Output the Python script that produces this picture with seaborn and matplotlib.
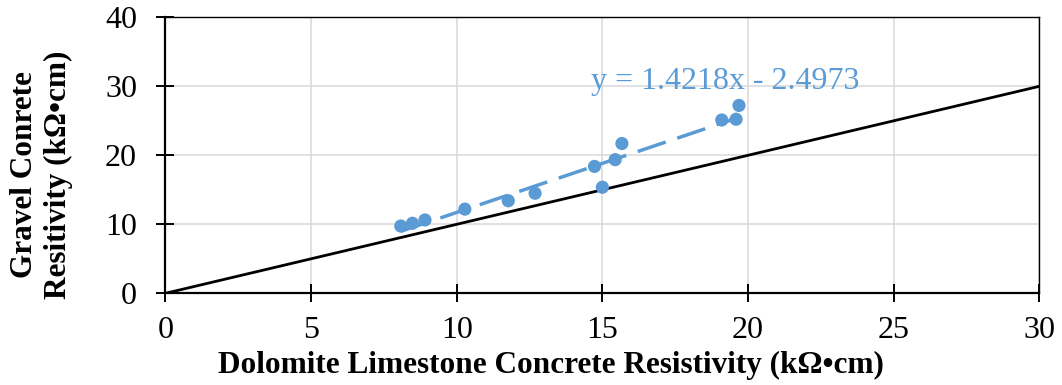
import numpy as np
import pandas as pd
import matplotlib
matplotlib.use("Agg")
import matplotlib.pyplot as plt
import seaborn as sns

# Paired resistivity readings (kΩ•cm)
dolomite = [8.08, 8.48, 8.91, 10.28, 11.77, 12.69, 14.73, 15.00, 15.44, 15.67, 19.10, 19.59, 19.69]
gravel = [9.75, 10.15, 10.63, 12.20, 13.41, 14.50, 18.39, 15.37, 19.37, 21.71, 25.12, 25.23, 27.23]

# Linear trendline coefficients
slope = 1.4218
intercept = -2.4973

x_ticks = [0, 5, 10, 15, 20, 25, 30]
y_ticks = [0, 10, 20, 30, 40]

BLUE = "#5B9BD5"

sns.set_theme(style="white")
plt.rcParams["font.family"] = ["Liberation Serif", "DejaVu Serif"]

fig = plt.figure(figsize=(10.62, 3.85), dpi=100)
ax = fig.add_axes([0.1558, 0.2382, 0.8228, 0.7168])

df = pd.DataFrame({"dolomite": dolomite, "gravel": gravel})

# Equality line y = x
eq = pd.DataFrame({"x": [x_ticks[0], x_ticks[-1]], "y": [x_ticks[0], x_ticks[-1]]})
sns.lineplot(data=eq, x="x", y="y", ax=ax, color="black", linewidth=2.0, zorder=2)

# Fitted trendline over the data range
tx = np.array([min(dolomite), max(dolomite)])
trend = pd.DataFrame({"x": tx, "y": slope * tx + intercept})
sns.lineplot(data=trend, x="x", y="y", ax=ax, color=BLUE, linewidth=2.5,
             zorder=3).lines[-1].set_dashes((8.5, 3.5))

sns.scatterplot(data=df, x="dolomite", y="gravel", ax=ax, color=BLUE, s=90,
                edgecolor="none", zorder=4)

ax.text(14.61, 30.7, f"y = {slope}x - {abs(intercept)}", color=BLUE,
        fontsize=23, ha="left", va="center", zorder=5)

ax.set_xlim(x_ticks[0], x_ticks[-1])
ax.set_ylim(y_ticks[0], y_ticks[-1])
ax.set_xticks(x_ticks)
ax.set_yticks(y_ticks)
ax.set_xticklabels([str(t) for t in x_ticks])
ax.set_yticklabels([str(t) for t in y_ticks])

ax.grid(True, color="#D9D9D9", linewidth=1.1, zorder=0)
ax.set_axisbelow(True)

for side in ["left", "bottom"]:
    ax.spines[side].set_color("black")
    ax.spines[side].set_linewidth(1.6)
for side in ["top", "right"]:
    ax.spines[side].set_color("black")
    ax.spines[side].set_linewidth(1.0)

ax.tick_params(axis="both", which="major", direction="inout", length=13,
               width=1.4, color="black", labelsize=23, labelcolor="black",
               bottom=True, left=True, top=False, right=False)
ax.tick_params(axis="x", pad=10)
ax.tick_params(axis="y", pad=14)

ax.set_xlabel("Dolomite Limestone Concrete Resistivity (kΩ•cm)", fontsize=22.5,
              fontweight="bold", color="black", va="center")
ax.set_ylabel("Gravel Conrete\nResitivity (kΩ•cm)", fontsize=22.5,
              fontweight="bold", color="black", linespacing=1.2,
              va="center", ha="center")
ax.xaxis.set_label_coords(0.441, -0.262)
ax.yaxis.set_label_coords(-0.142, 0.429)

fig.savefig("out.png", dpi=100, facecolor="white")
